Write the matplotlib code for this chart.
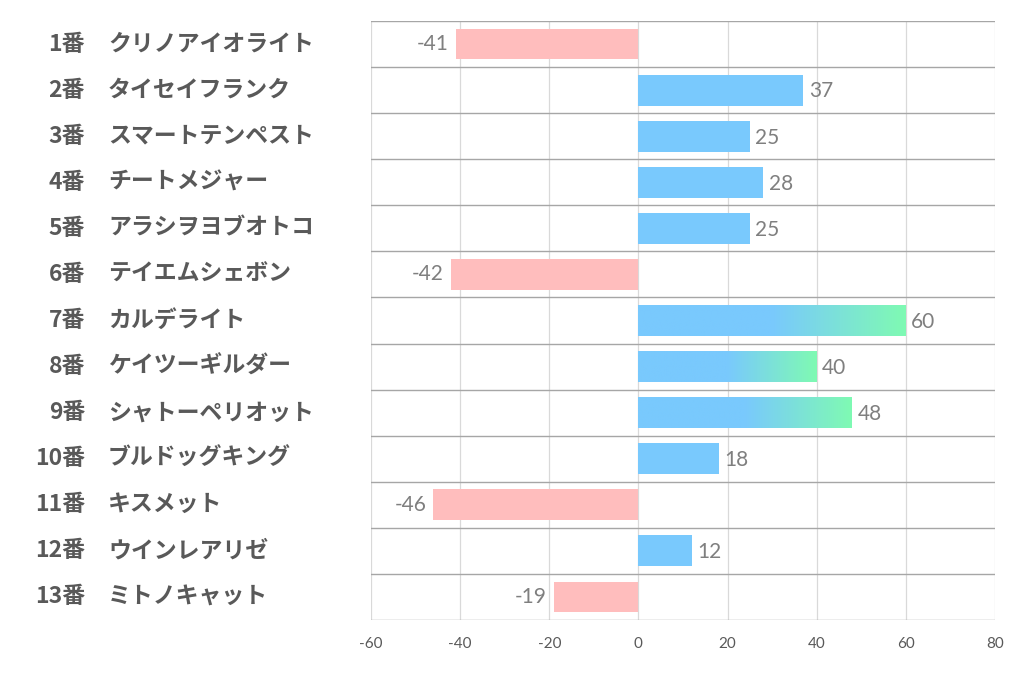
import matplotlib
matplotlib.use("Agg")
import matplotlib.pyplot as plt
import numpy as np
from matplotlib.colors import LinearSegmentedColormap
from matplotlib.transforms import blended_transform_factory

numbers = ["1番", "2番", "3番", "4番", "5番", "6番", "7番", "8番", "9番", "10番", "11番", "12番", "13番"]
names = ["クリノアイオライト", "タイセイフランク", "スマートテンペスト", "チートメジャー", "アラシヲヨブオトコ",
         "テイエムシェボン", "カルデライト", "ケイツーギルダー", "シャトーペリオット", "ブルドッグキング",
         "キスメット", "ウインレアリゼ", "ミトノキャット"]
values = [-41, 37, 25, 28, 25, -42, 60, 40, 48, 18, -46, 12, -19]
xticks = [-60, -40, -20, 0, 20, 40, 60, 80]

BLUE = "#79c9fd"
GREEN = "#7ffab3"
PINK = "#ffbdbd"
GRAD_MIN = 40

plt.rcParams['font.family'] = ['Noto Sans CJK JP', 'DejaVu Sans']

fig = plt.figure(figsize=(10.22, 6.78), dpi=100)
ax = fig.add_axes([371/1022, 1 - 620/678, (995-371)/1022, (620-21)/678])

n = len(values)
ys = np.arange(n)
h = 0.67
cmap = LinearSegmentedColormap.from_list("g", [BLUE, BLUE, GREEN])

for y, v in zip(ys, values):
    if v < 0:
        ax.barh(y, v, height=h, color=PINK, zorder=3)
        ax.text(v - 1.6, y, f"{v}", ha="right", va="center", color="#7f7f7f",
                fontsize=15, family=["Lato", "DejaVu Sans"], zorder=4)
    else:
        ax.barh(y, v, height=h, color=BLUE, zorder=3)
        if v >= GRAD_MIN:
            grad = np.linspace(0, 1, 256).reshape(1, -1)
            ax.imshow(grad, extent=(0, v, y + h/2, y - h/2), aspect="auto", cmap=cmap,
                      zorder=3.5, interpolation="bilinear")
        ax.text(v + 1.2, y + 0.03, f"{v}", ha="left", va="center", color="#7f7f7f",
                fontsize=15, family=["Lato", "DejaVu Sans"], zorder=4)

ax.set_xlim(-60, 80)
ax.set_ylim(n - 0.5, -0.5)
ax.set_xticks(xticks)
ax.set_xticklabels([str(t) for t in xticks], family=["Lato", "DejaVu Sans"], fontsize=11, color="#595959")
ax.set_yticks([])
ax.tick_params(axis="x", length=0, pad=12)

for xt in xticks:
    ax.axvline(xt, color="#d9d9d9", lw=0.9, zorder=1)
for b in np.arange(-0.5, n, 1.0):
    ax.axhline(b, color="#a6a6a6", lw=1.0, zorder=2)
for s in ax.spines.values():
    s.set_visible(False)

tr = blended_transform_factory(fig.transFigure, ax.transData)
for y, num, nm in zip(ys, numbers, names):
    ax.text(85/1022, y, num, transform=tr, ha="right", va="center", fontsize=16.5,
            fontweight="bold", color="#595959")
    ax.text(108/1022, y, nm, transform=tr, ha="left", va="center", fontsize=16.5,
            fontweight="bold", color="#595959")

fig.savefig("out.png", dpi=100)
